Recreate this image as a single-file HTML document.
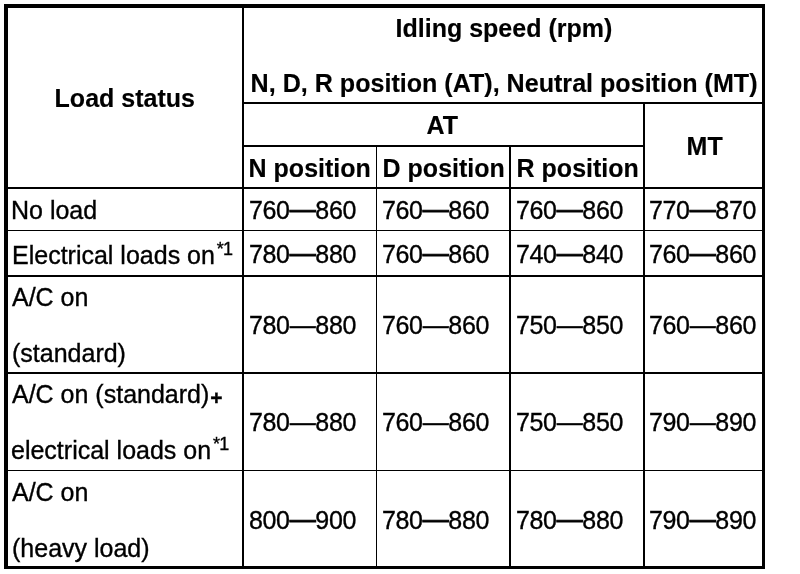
<!DOCTYPE html>
<html lang="en"><head><meta charset="utf-8"><title>Idling speed</title>
<style>
html,body{margin:0;padding:0;background:#fff;}
body{width:800px;height:574px;position:relative;overflow:hidden;font-family:"Liberation Sans",sans-serif;font-size:25px;color:#000;}
.l{position:absolute;background:#000;}
.t{position:absolute;white-space:nowrap;line-height:28px;height:28px;font-weight:normal;}
.b{font-weight:bold;}
.t{-webkit-text-stroke:0.35px #000;}
.t.b{-webkit-text-stroke:0.15px #000;}
sup{font-size:18px;line-height:0;vertical-align:baseline;position:relative;top:-9.5px;margin-left:1.8px;letter-spacing:-0.6px;}
.v{letter-spacing:-0.35px;}
.dk,.dn{font-size:26px;line-height:0;position:relative;top:-0.7px;}
.dk{-webkit-text-stroke:1px #000;top:-1.1px;}
.dn{-webkit-text-stroke:0.3px #000;}
.pl{font-size:21px;position:relative;top:2px;margin-left:1px;}
</style></head><body>

<div class="l" style="left:4px;top:4px;width:4px;height:565px"></div>
<div class="l" style="left:4px;top:4px;width:761px;height:4px"></div>
<div class="l" style="left:762px;top:4px;width:3px;height:565px"></div>
<div class="l" style="left:4px;top:566px;width:761px;height:3px"></div>
<div class="l" style="left:242px;top:8px;width:2px;height:558px"></div>
<div class="l" style="left:376px;top:146px;width:1px;height:420px"></div>
<div class="l" style="left:509px;top:146px;width:2px;height:420px"></div>
<div class="l" style="left:643px;top:103px;width:2px;height:463px"></div>
<div class="l" style="left:244px;top:102px;width:518px;height:2px"></div>
<div class="l" style="left:244px;top:145px;width:399px;height:2px"></div>
<div class="l" style="left:8px;top:187px;width:754px;height:2px"></div>
<div class="l" style="left:8px;top:230px;width:754px;height:1px"></div>
<div class="l" style="left:8px;top:275px;width:754px;height:2px"></div>
<div class="l" style="left:8px;top:372px;width:754px;height:2px"></div>
<div class="l" style="left:8px;top:470px;width:754px;height:1px"></div>
<div class="t b" style="left:395.6px;top:14.4px">Idling speed (rpm)</div>
<div class="t b" style="left:250.6px;top:69.4px"><span style="font-size:25.1px">N, D, R position (AT), Neutral position (MT)</span></div>
<div class="t b" style="left:54.6px;top:84.4px">Load status</div>
<div class="t b" style="left:426.6px;top:111.4px">AT</div>
<div class="t b" style="left:686.6px;top:132.4px">MT</div>
<div class="t b" style="left:248.6px;top:154.4px">N position</div>
<div class="t b" style="left:382.6px;top:154.4px">D position</div>
<div class="t b" style="left:516.6px;top:154.4px">R position</div>
<div class="t" style="left:11px;top:196.4px">No load</div>
<div class="t" style="left:12px;top:241.4px">Electrical loads on<sup>*1</sup></div>
<div class="t" style="left:12px;top:283.4px">A/C on</div>
<div class="t" style="left:12px;top:339.4px">(standard)</div>
<div class="t" style="left:12px;top:380.4px">A/C on (standard)<b class="pl">+</b></div>
<div class="t" style="left:11px;top:436.4px">electrical loads on<sup>*1</sup></div>
<div class="t" style="left:12px;top:478.4px">A/C on</div>
<div class="t" style="left:12px;top:534.4px">(heavy load)</div>
<div class="t" style="left:249px;top:196.4px"><span class="v">760<span class="dk">—</span>860</span></div>
<div class="t" style="left:382px;top:196.4px"><span class="v">760<span class="dk">—</span>860</span></div>
<div class="t" style="left:516px;top:196.4px"><span class="v">760<span class="dk">—</span>860</span></div>
<div class="t" style="left:649px;top:196.4px"><span class="v">770<span class="dk">—</span>870</span></div>
<div class="t" style="left:249px;top:240.4px"><span class="v">780<span class="dk">—</span>880</span></div>
<div class="t" style="left:382px;top:240.4px"><span class="v">760<span class="dk">—</span>860</span></div>
<div class="t" style="left:516px;top:240.4px"><span class="v">740<span class="dk">—</span>840</span></div>
<div class="t" style="left:649px;top:240.4px"><span class="v">760<span class="dk">—</span>860</span></div>
<div class="t" style="left:249px;top:311.4px"><span class="v">780<span class="dn">—</span>880</span></div>
<div class="t" style="left:382px;top:311.4px"><span class="v">760<span class="dn">—</span>860</span></div>
<div class="t" style="left:516px;top:311.4px"><span class="v">750<span class="dn">—</span>850</span></div>
<div class="t" style="left:649px;top:311.4px"><span class="v">760<span class="dn">—</span>860</span></div>
<div class="t" style="left:249px;top:408.4px"><span class="v">780<span class="dn">—</span>880</span></div>
<div class="t" style="left:382px;top:408.4px"><span class="v">760<span class="dn">—</span>860</span></div>
<div class="t" style="left:516px;top:408.4px"><span class="v">750<span class="dn">—</span>850</span></div>
<div class="t" style="left:649px;top:408.4px"><span class="v">790<span class="dn">—</span>890</span></div>
<div class="t" style="left:249px;top:506.4px"><span class="v">800<span class="dk">—</span>900</span></div>
<div class="t" style="left:382px;top:506.4px"><span class="v">780<span class="dk">—</span>880</span></div>
<div class="t" style="left:516px;top:506.4px"><span class="v">780<span class="dk">—</span>880</span></div>
<div class="t" style="left:649px;top:506.4px"><span class="v">790<span class="dk">—</span>890</span></div>
</body></html>
